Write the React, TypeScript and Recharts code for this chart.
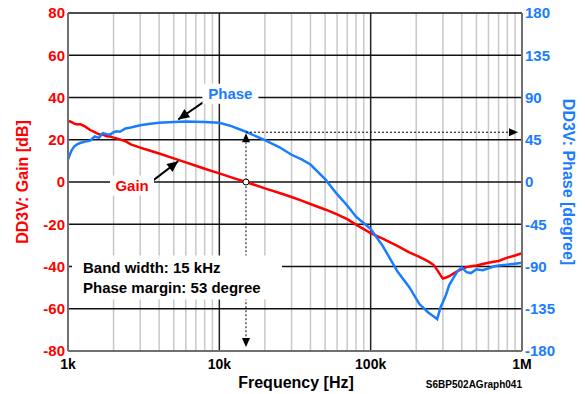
import {
  ComposedChart, Line, CartesianGrid, XAxis, YAxis, ReferenceLine, ReferenceDot,
} from 'recharts'

const FONT = '"Liberation Sans", Arial, sans-serif'
const RED = '#ff0000'
const BLUE = '#1a7cff'

// frequency [Hz] with gain [dB] and phase [degree]
const freqs = [
  1000, 1050, 1100, 1150, 1200, 1300, 1400, 1500, 1600, 1700,
  1800, 1900, 2000, 2100, 2200, 2400, 2600, 3000, 3500, 4000,
  5000, 6000, 7000, 8000, 10000, 12000, 15000, 20000, 25000, 30000,
  35000, 40000, 50000, 60000, 70000, 80000, 100000, 120000, 150000, 180000,
  210000, 240000, 260000, 275000, 290000, 300000, 315000, 330000, 350000, 375000,
  400000, 430000, 460000, 500000, 550000, 600000, 650000, 700000, 800000, 900000,
  1000000,
]
const gain = [
  29, 28.4, 27.6, 27.2, 27.4, 26.2, 24.6, 23.6, 22.6, 22.4,
  21.6, 21.5, 21, 20.6, 20.2, 19.3, 17.8, 16.3, 14.8, 13.5,
  11.2, 9.3, 7.7, 6.3, 4.1, 2.2, 0, -3.0, -5.2, -7.1,
  -8.8, -10.4, -13.0, -15.3, -17.6, -20.2, -24.2, -26.8, -30.2, -33.3,
  -35.4, -37.6, -39.2, -41.6, -44.2, -45.7, -45.2, -44.6, -43.5, -42.2,
  -41.2, -40.3, -39.9, -39.5, -38.8, -38.2, -37.8, -37.4, -35.8, -34.8,
  -33.7,
]
const phase = [
  24, 33, 38, 40, 41.5, 43, 44, 48.5, 47, 52,
  51, 50.5, 53, 54, 53.5, 57, 58, 60.5, 62, 63,
  64, 64.5, 64.3, 64, 63, 59.5, 53.5, 44.5, 37, 29,
  24, 18.6, 3, -13, -25, -37, -50, -68, -95, -112,
  -130, -139, -143, -146, -133, -128, -120, -110, -103, -95,
  -91, -96, -97, -93, -94, -92, -90, -89, -88, -87,
  -86,
]

const xTicks = [1000, 10000, 100000, 1000000]
const xTickLabels = ['1k', '10k', '100k', '1M']
const minorTicks = [1000, 10000, 100000].flatMap(d => [2, 3, 4, 5, 6, 7, 8, 9].map(m => m * d))
const gainTicks = [-80, -60, -40, -20, 0, 20, 40, 60, 80]
const phaseTicks = [-180, -135, -90, -45, 0, 45, 90, 135, 180]

// annotation values
const bandwidth = 15000
const phaseMargin = 53

const rows = freqs.map((f, i) => ({ f, gain: gain[i], phase: phase[i] }))

function head(tx: number, ty: number, fx: number, fy: number, len: number, w: number) {
  const dx = fx - tx, dy = fy - ty
  const d = Math.sqrt(dx * dx + dy * dy) || 1
  const ux = dx / d, uy = dy / d
  const bx = tx + ux * len, by = ty + uy * len
  return `${tx},${ty} ${bx - uy * w},${by + ux * w} ${bx + uy * w},${by - ux * w}`
}

const SolidArrow = (p: any) => (
  <g>
    <line x1={p.x1} y1={p.y1} x2={p.x2} y2={p.y2} stroke="#000" strokeWidth={2} />
    <polygon points={head(p.x2, p.y2, p.x1, p.y1, 11, 5)} fill="#000" />
  </g>
)

const DottedVertical = (p: any) => (
  <g>
    <line x1={p.x1} y1={p.y1 + 6} x2={p.x2} y2={p.y2 - 8} stroke="#000" strokeWidth={1} strokeDasharray="2 2" />
    <polygon points={head(p.x1, p.y1 + 1, p.x1, p.y1 + 20, 9, 4)} fill="#000" />
    <polygon points={head(p.x2, p.y2 - 4, p.x2, p.y2 - 20, 9, 4)} fill="#000" />
  </g>
)

const DottedHorizontal = (p: any) => (
  <g>
    <line x1={p.x1} y1={p.y1} x2={p.x2 - 8} y2={p.y2} stroke="#000" strokeWidth={1} strokeDasharray="2 2" />
    <polygon points={head(p.x2 - 4, p.y2, p.x2 - 20, p.y2, 9, 4)} fill="#000" />
  </g>
)

const TagLabel = (text: string, color: string, w: number) => (p: any) => (
  <g>
    <rect x={p.cx - w / 2} y={p.cy - 10} width={w} height={20} fill="#fff" />
    <text x={p.cx} y={p.cy + 5.5} textAnchor="middle" fill={color}
      style={{ fontFamily: FONT, fontSize: 15, fontWeight: 'bold' }}>{text}</text>
  </g>
)

const InfoBox = (p: any) => (
  <g>
    <rect x={p.cx + 4} y={p.cy - 11} width={210} height={44} fill="#fff" />
    <text x={p.cx + 15} y={p.cy + 6} fill="#000" style={{ fontFamily: FONT, fontSize: 15, fontWeight: 'bold' }}>
      Band width: 15 kHz
    </text>
    <text x={p.cx + 15} y={p.cy + 26} fill="#000" style={{ fontFamily: FONT, fontSize: 15, fontWeight: 'bold' }}>
      Phase margin: 53 degree
    </text>
  </g>
)

function gridX(values: number[]) {
  return ({ xAxis, offset }: any) => {
    if (xAxis && typeof xAxis.scale === 'function') return values.map(v => xAxis.scale(v))
    return values.map(v => offset.left + offset.width * Math.log10(v / 1000) / 3)
  }
}

const tickStyle = (fill: string, size: number) => ({ fill, fontSize: size, fontWeight: 'bold' as const, fontFamily: FONT })
const axisLine = { stroke: '#707070', strokeWidth: 2 }

export default function App() {
  return (
    <div style={{ position: 'absolute', left: 0, top: 0, width: 585, height: 394, background: '#fff' }}>
      <ComposedChart width={585} height={394} data={rows} margin={{ top: 13, right: 0, bottom: 0, left: 0 }}>
        <CartesianGrid yAxisId="gain" horizontal={false} stroke="#c8c8c8" strokeWidth={1.5}
          verticalCoordinatesGenerator={gridX(minorTicks)} />
        <CartesianGrid yAxisId="gain" horizontal={false} stroke="#222" strokeWidth={1.5}
          verticalCoordinatesGenerator={gridX([10000, 100000])} />
        <CartesianGrid yAxisId="gain" vertical={false} stroke="#111" strokeWidth={1.5} />
        <XAxis
          dataKey="f" type="number" scale="log" domain={[1000, 1000000]} allowDataOverflow
          ticks={xTicks} interval={0}
          tickFormatter={(v: number) => xTickLabels[xTicks.indexOf(v)] ?? ''}
          height={43} tickSize={0} tickMargin={8} tickLine={false} axisLine={axisLine}
          tick={tickStyle('#000', 14)}
          label={({ viewBox }: any) => (
            <g>
              <text x={viewBox.x + 228} y={viewBox.y + 37} textAnchor="middle" fill="#000"
                style={{ fontFamily: FONT, fontSize: 16, fontWeight: 'bold' }}>Frequency [Hz]</text>
              <text x={viewBox.x + viewBox.width} y={viewBox.y + 37} textAnchor="end" fill="#000"
                style={{ fontFamily: FONT, fontSize: 10, fontWeight: 'bold' }}>S6BP502AGraph041</text>
            </g>
          )}
        />
        <YAxis
          yAxisId="gain" orientation="left" domain={[-80, 80]} ticks={gainTicks} interval={0}
          width={68} tickSize={0} tickMargin={3} tickLine={false} axisLine={axisLine}
          tick={tickStyle(RED, 15)}
          label={({ viewBox }: any) => {
            const cx = 22, cy = viewBox.y + viewBox.height / 2
            return (
              <text x={cx} y={cy} transform={`rotate(-90 ${cx} ${cy})`} textAnchor="middle" dominantBaseline="central"
                fill={RED} style={{ fontFamily: FONT, fontSize: 16, fontWeight: 'bold' }}>DD3V: Gain [dB]</text>
            )
          }}
        />
        <YAxis
          yAxisId="phase" orientation="right" domain={[-180, 180]} ticks={phaseTicks} interval={0}
          width={63} tickSize={0} tickMargin={3} tickLine={false} axisLine={axisLine}
          tick={tickStyle(BLUE, 15)}
          label={({ viewBox }: any) => {
            const cx = viewBox.x + 46, cy = viewBox.y + viewBox.height / 2
            return (
              <text x={cx} y={cy} transform={`rotate(90 ${cx} ${cy})`} textAnchor="middle" dominantBaseline="central"
                fill={BLUE} style={{ fontFamily: FONT, fontSize: 16, fontWeight: 'bold' }}>DD3V: Phase [degree]</text>
            )
          }}
        />
        <Line yAxisId="gain" type="linear" dataKey="gain" stroke={RED} strokeWidth={2.5} dot={false} isAnimationActive={false} />
        <Line yAxisId="phase" type="linear" dataKey="phase" stroke={BLUE} strokeWidth={2.5} dot={false} isAnimationActive={false} />

        <ReferenceLine yAxisId="phase" segment={[{ x: bandwidth, y: phaseMargin }, { x: bandwidth, y: -180 }]} shape={DottedVertical} />
        <ReferenceLine yAxisId="phase" segment={[{ x: bandwidth, y: phaseMargin }, { x: 1000000, y: phaseMargin }]} shape={DottedHorizontal} />
        <ReferenceDot yAxisId="gain" x={bandwidth} y={0} r={3} fill="#fff" stroke="#000" strokeWidth={1} />

        <ReferenceLine yAxisId="phase" segment={[{ x: 8330, y: 88 }, { x: 5350, y: 66.6 }]} shape={SolidArrow} />
        <ReferenceLine yAxisId="gain" segment={[{ x: 3600, y: 0.4 }, { x: 5350, y: 9.8 }]} shape={SolidArrow} />
        <ReferenceDot yAxisId="phase" x={11830} y={94} shape={TagLabel('Phase', BLUE, 56)} />
        <ReferenceDot yAxisId="gain" x={2650} y={-1.7} shape={TagLabel('Gain', RED, 44)} />
        <ReferenceDot yAxisId="gain" x={1000} y={-40} shape={InfoBox} />
      </ComposedChart>
    </div>
  )
}
